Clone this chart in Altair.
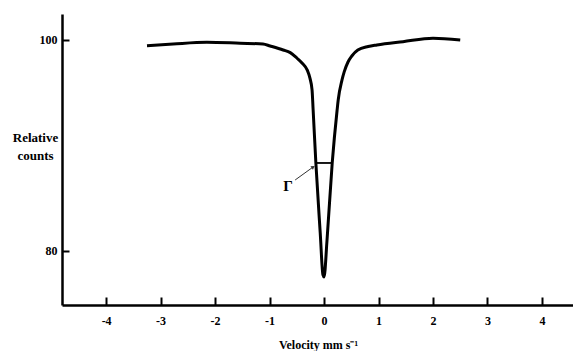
import altair as alt
import pandas as pd

# Curve
velocity = [-3.25, -2.77, -2.15, -1.54, -1.12, -0.99, -0.75, -0.62, -0.50, -0.40,
            -0.31, -0.26, -0.22, -0.20, -0.15, -0.07, -0.02, 0.0, 0.055, 0.15,
            0.24, 0.26, 0.33, 0.37, 0.44, 0.51, 0.62, 0.81, 0.97, 1.45, 2.00, 2.50]
counts = [99.46, 99.62, 99.78, 99.69, 99.62, 99.43, 99.05, 98.80, 98.29, 97.80,
          97.16, 96.40, 95.26, 93.36, 88.34, 81.71, 77.73, 77.54, 81.04, 88.34,
          93.36, 94.31, 96.21, 96.97, 97.91, 98.48, 99.05, 99.38, 99.53, 99.84, 100.16, 100.0]

x_ticks = [-4, -3, -2, -1, 0, 1, 2, 3, 4]
y_ticks = [80, 100]

# Γ (line width) marker
gamma_bar = {"x": [-0.15], "x2": [0.15], "y": [88.34]}
gamma_arrow = {"x": [-0.53], "x2": [-0.2], "y": [86.73], "y2": [87.96]}
gamma_label = {"x": [-0.66], "y": [86.2], "t": ["Γ"]}

X_DOM = [-4.81, 4.57]
Y_DOM = [74.88, 102.46]
W, H = 511, 291
FONT = "Liberation Serif"

curve_df = pd.DataFrame({"v": velocity, "c": counts})

xs = alt.Scale(domain=X_DOM, nice=False, zero=False)
ys = alt.Scale(domain=Y_DOM, nice=False, zero=False)

curve = alt.Chart(curve_df).mark_line(
    color="black", strokeWidth=3, interpolate="monotone"
).encode(
    x=alt.X("v:Q", scale=xs, axis=alt.Axis(
        orient="bottom", values=x_ticks, ticks=False, grid=False,
        domainColor="black", domainWidth=2.5, labelPadding=10,
        labelFont=FONT, labelFontWeight="bold", labelFontSize=12, labelColor="black",
        labelExpr="datum.value + ''",
        title="Velocity mm s⁻¹", titleFont=FONT, titleFontWeight="bold",
        titleFontSize=12, titleColor="black", titleX=256, titleY=43,
        titleBaseline="alphabetic",
    )),
    y=alt.Y("c:Q", scale=ys, axis=alt.Axis(
        orient="left", values=y_ticks, ticks=False, grid=False,
        domainColor="black", domainWidth=2.5, labelPadding=5,
        labelFont=FONT, labelFontWeight="bold", labelFontSize=12, labelColor="black",
        title=["Relative", "counts"], titleFont=FONT, titleFontWeight="bold",
        titleFontSize=13, titleColor="black", titleAngle=0, titleAlign="center",
        titleX=-27, titleY=127, titleBaseline="alphabetic", titleLineHeight=18,
    )),
)

bar = alt.Chart(pd.DataFrame(gamma_bar)).mark_rule(color="black", strokeWidth=1.8).encode(
    x=alt.X("x:Q", scale=xs, axis=alt.Axis(
        orient="top", offset=-H, values=x_ticks, labels=False, domain=False,
        grid=False, tickColor="black", tickWidth=2, tickSize=8, title=None)),
    x2="x2:Q",
    y=alt.Y("y:Q", scale=ys, axis=alt.Axis(
        orient="right", offset=-W, values=y_ticks, labels=False, domain=False,
        grid=False, tickColor="black", tickWidth=2, tickSize=7, title=None)),
)

arrow = alt.Chart(pd.DataFrame(gamma_arrow)).mark_rule(color="#333333", strokeWidth=1).encode(
    x=alt.X("x:Q", scale=xs, axis=None), x2="x2:Q",
    y=alt.Y("y:Q", scale=ys, axis=None), y2="y2:Q",
)

head = alt.Chart(pd.DataFrame(gamma_arrow)).mark_point(
    shape="triangle-up", filled=True, color="#333333", size=18, angle=54, opacity=1
).encode(
    x=alt.X("x2:Q", scale=xs, axis=None),
    y=alt.Y("y2:Q", scale=ys, axis=None),
)

label = alt.Chart(pd.DataFrame(gamma_label)).mark_text(
    font=FONT, fontWeight="bold", fontSize=15, color="black"
).encode(
    x=alt.X("x:Q", scale=xs, axis=None),
    y=alt.Y("y:Q", scale=ys, axis=None),
    text="t:N",
)

chart = alt.layer(curve, bar, arrow, head, label).properties(
    width=W, height=H,
    autosize=alt.AutoSizeParams(type="none"),
    padding={"left": 54, "top": 6, "right": 0, "bottom": 46},
    background="white",
).configure_view(stroke=None)

chart.save("out.html", embed_options={"renderer": "svg", "actions": False})
